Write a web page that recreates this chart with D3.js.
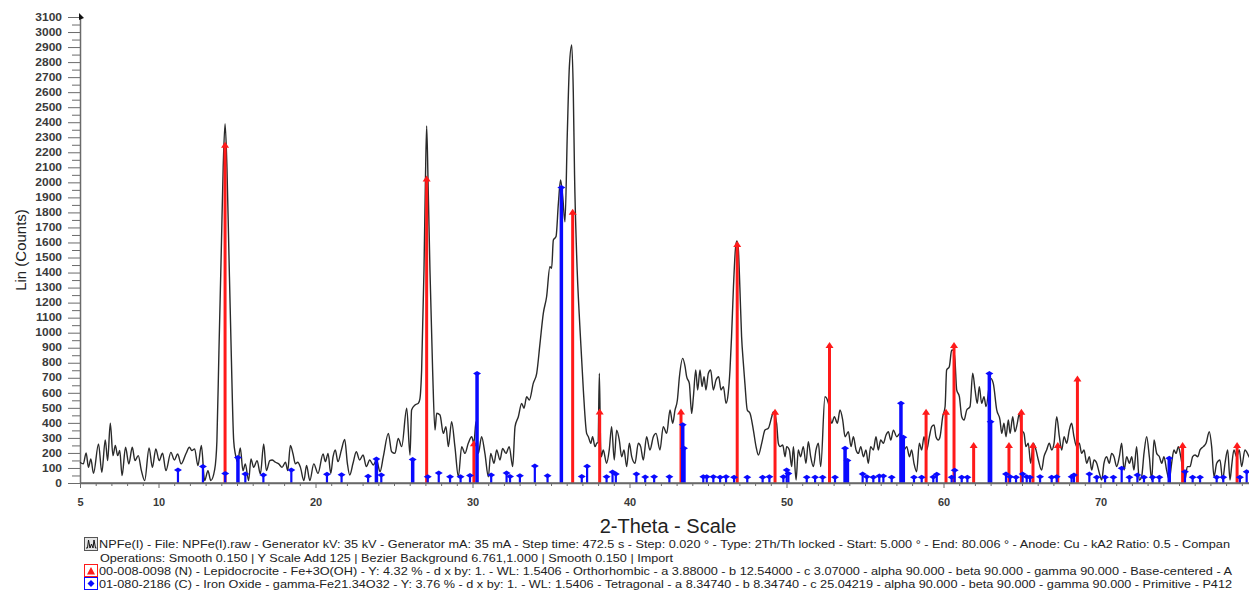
<!DOCTYPE html>
<html>
<head>
<meta charset="utf-8">
<script src="https://cdn.jsdelivr.net/npm/d3@7"></script>
<style>
  body { margin: 0; background: #fff; }
  svg { display: block; font-family: Arial, "Liberation Sans", sans-serif; }
</style>
</head>
<body>
<svg id="chart" width="1249" height="590"></svg>
<script>
// measured scan: [2-theta, counts]
const scan = [
  [5.00,138],[5.21,127],[5.39,200],[5.54,104],[5.69,160],[5.86,64],[6.18,260],[6.39,71],[6.61,287],[6.76,149],
  [6.93,398],[7.10,182],[7.25,249],[7.40,182],[7.53,216],[7.68,49],[7.90,238],[8.11,127],[8.33,238],[8.50,149],
  [8.71,182],[8.91,82],[9.12,16],[9.40,233],[9.61,104],[9.83,227],[10.04,149],[10.26,198],[10.47,82],[10.79,204],
  [11.01,153],[11.22,193],[11.44,127],[11.76,198],[11.97,238],[12.12,216],[12.30,227],[12.51,116],[12.73,249],[12.94,16],
  [13.15,82],[13.33,16],[13.58,90],[13.72,280],[13.85,880],[14.00,1550],[14.12,2100],[14.24,2390],[14.36,2100],[14.48,1550],
  [14.63,880],[14.79,280],[14.90,190],[15.04,138],[15.21,233],[15.38,82],[15.53,127],[15.74,16],[15.89,160],[16.06,104],
  [16.28,149],[16.49,60],[16.70,260],[16.87,82],[17.09,149],[17.23,153],[17.45,138],[17.66,127],[17.87,104],[18.09,138],
  [18.23,82],[18.40,249],[18.57,193],[18.72,127],[18.87,138],[19.04,104],[19.26,16],[19.43,116],[19.64,16],[19.89,127],
  [20.16,64],[20.48,193],[20.63,142],[20.80,197],[20.97,64],[21.12,175],[21.26,220],[21.43,142],[21.65,220],[21.86,290],
  [22.03,131],[22.18,53],[22.39,131],[22.60,208],[22.81,153],[23.03,186],[23.24,109],[23.45,153],[23.68,120],[23.89,153],
  [24.11,75],[24.32,175],[24.64,330],[24.85,208],[25.06,197],[25.27,297],[25.49,242],[25.81,497],[26.02,186],[26.12,486],
  [26.34,519],[26.55,530],[26.65,560],[26.76,752],[26.91,1417],[27.00,2000],[27.08,2375],[27.17,2000],[27.29,1417],[27.46,752],
  [27.61,352],[27.72,464],[27.93,452],[28.14,330],[28.31,375],[28.46,242],[28.67,408],[28.88,242],[29.10,42],[29.31,242],
  [29.52,197],[29.73,264],[29.95,308],[30.09,264],[30.22,408],[30.37,197],[30.58,308],[30.79,197],[31.01,42],[31.16,197],
  [31.37,131],[31.54,220],[31.75,153],[31.92,230],[32.13,197],[32.34,242],[32.56,109],[32.71,375],[32.92,441],[33.13,530],
  [33.28,497],[33.45,574],[33.62,552],[33.87,663],[34.09,730],[34.30,929],[34.51,1129],[34.72,1239],[34.93,1439],[35.04,1428],
  [35.15,1616],[35.32,1639],[35.47,1860],[35.61,2016],[35.75,1900],[35.89,1737],[36.04,2330],[36.17,2770],[36.32,2914],[36.42,2600],
  [36.50,2050],[36.63,1528],[36.85,1018],[37.06,619],[37.27,330],[37.38,308],[37.53,264],[37.65,308],[37.80,242],[37.91,264],
  [38.00,270],[38.08,730],[38.16,240],[38.20,175],[38.33,220],[38.54,131],[38.71,220],[38.86,375],[39.03,153],[39.18,352],
  [39.35,286],[39.50,175],[39.65,220],[39.82,109],[39.99,264],[40.14,175],[40.35,131],[40.56,264],[40.71,242],[40.88,153],
  [41.09,308],[41.30,220],[41.52,308],[41.69,330],[41.94,220],[42.15,375],[42.37,330],[42.58,486],[42.75,397],[42.90,486],
  [43.05,552],[43.18,707],[43.39,829],[43.54,774],[43.64,707],[43.81,663],[43.96,463],[44.07,574],[44.22,752],[44.34,619],
  [44.49,752],[44.62,641],[44.75,707],[44.87,619],[45.02,729],[45.17,752],[45.34,619],[45.51,685],[45.68,707],[45.83,619],
  [45.98,641],[46.15,530],[46.29,600],[46.40,752],[46.50,973],[46.62,1300],[46.75,1560],[46.84,1610],[46.93,1560],[47.03,1300],
  [47.14,973],[47.25,800],[47.35,663],[47.50,486],[47.68,463],[47.89,352],[48.06,242],[48.21,186],[48.42,264],[48.63,352],
  [48.84,364],[49.06,441],[49.16,474],[49.37,397],[49.48,264],[49.59,242],[49.76,253],[49.91,175],[50.01,242],[50.18,220],
  [50.33,109],[50.44,242],[50.61,20],[50.75,220],[50.90,175],[51.07,242],[51.24,131],[51.39,275],[51.54,175],[51.71,109],
  [51.88,220],[52.03,264],[52.18,109],[52.45,574],[52.67,530],[52.88,397],[53.05,441],[53.24,397],[53.41,486],[53.58,419],
  [53.73,308],[53.94,341],[54.11,242],[54.26,308],[54.43,220],[54.58,197],[54.73,242],[54.90,175],[55.06,220],[55.21,131],
  [55.36,242],[55.53,220],[55.70,308],[55.85,220],[56.00,286],[56.17,264],[56.34,319],[56.49,341],[56.64,286],[56.81,352],
  [57.02,308],[57.23,330],[57.34,297],[57.49,220],[57.66,242],[57.83,175],[57.97,220],[58.12,131],[58.29,75],[58.46,264],
  [58.61,220],[58.76,308],[58.93,220],[59.10,308],[59.25,375],[59.40,386],[59.52,308],[59.67,286],[59.78,308],[59.95,441],
  [60.10,507],[60.20,751],[60.37,774],[60.52,883],[60.63,885],[60.73,818],[60.84,620],[61.01,574],[61.16,441],[61.31,419],
  [61.48,486],[61.69,508],[61.86,730],[62.01,619],[62.15,530],[62.28,641],[62.43,530],[62.58,574],[62.71,508],[63.00,696],
  [63.17,663],[63.39,486],[63.60,419],[63.71,330],[63.85,397],[63.98,308],[64.13,419],[64.24,330],[64.41,441],[64.55,341],
  [64.70,397],[64.83,463],[64.98,352],[65.13,330],[65.25,242],[65.40,264],[65.55,131],[65.72,264],[65.89,220],[66.04,153],
  [66.25,86],[66.40,175],[66.57,220],[66.74,264],[66.89,220],[67.04,264],[67.21,441],[67.38,308],[67.53,220],[67.68,308],
  [67.85,264],[68.01,352],[68.16,397],[68.31,308],[68.48,242],[68.65,264],[68.80,197],[68.95,220],[69.12,131],[69.29,175],
  [69.44,86],[69.59,153],[69.76,131],[69.93,64],[70.08,20],[70.22,131],[70.39,175],[70.56,131],[70.71,197],[70.86,175],
  [71.03,109],[71.20,175],[71.35,264],[71.50,86],[71.67,175],[71.84,131],[71.99,175],[72.13,86],[72.30,242],[72.47,20],
  [72.62,42],[72.77,197],[72.94,308],[73.11,175],[73.26,20],[73.41,286],[73.58,197],[73.75,175],[73.90,131],[74.04,175],
  [74.21,86],[74.38,20],[74.53,131],[74.68,220],[74.81,197],[74.96,242],[75.11,175],[75.38,20],[75.53,109],[75.70,109],
  [75.87,175],[76.02,186],[76.20,175],[76.34,220],[76.55,242],[76.72,264],[76.93,341],[77.08,242],[77.23,42],[77.40,131],
  [77.61,153],[77.78,20],[77.93,131],[78.10,220],[78.25,20],[78.35,109],[78.50,220],[78.67,175],[78.84,220],[78.99,109],
  [79.20,220],[79.46,175],[79.70,130],[80.00,160]
];

// reference pattern 00-008-0098 Lepidocrocite: [2-theta, counts]
const lepidocrocite = [
  [14.24,2250],[27.08,2025],[30.09,264],[36.38,1805],[38.10,475],[43.28,476],[46.86,1590],[49.27,474],[52.74,918],[58.89,474],
  [60.16,474],[60.67,918],[61.92,253],[64.17,253],[64.96,474],[65.70,253],[67.28,253],[68.53,696],[75.23,253],[78.70,253]
];

// reference pattern 01-080-2186 Iron Oxide: [2-theta, counts]
const ironOxide = [
  [11.24,87],[12.83,110],[14.25,64],[15.06,169],[15.53,60],[16.68,53],[18.46,87],[20.73,58],[21.66,55],[23.35,45],
  [23.88,160],[24.19,53],[26.19,157],[27.15,42],[27.85,66],[28.57,42],[29.24,42],[29.84,50],[30.29,728],[31.19,53],
  [32.17,66],[32.39,44],[33.02,49],[33.97,113],[34.78,49],[35.66,1965],[36.96,44],[37.30,111],[38.54,42],[38.92,73],
  [39.13,60],[40.44,60],[41.00,40],[41.57,42],[42.54,42],[43.39,388],[43.47,231],[44.70,42],[44.92,42],[45.34,42],
  [45.77,38],[46.15,42],[46.66,38],[47.50,38],[48.48,38],[48.91,42],[49.80,42],[50.01,86],[50.12,64],[51.29,38],
  [51.82,38],[52.30,38],[53.09,38],[53.73,231],[53.88,149],[54.85,60],[55.11,42],[55.53,38],[55.91,46],[56.17,46],
  [56.70,38],[57.29,530],[57.44,304],[58.12,38],[58.61,38],[59.35,40],[59.57,58],[60.52,38],[60.71,84],[61.16,38],
  [61.52,38],[62.92,728],[63.00,408],[63.98,60],[64.24,42],[64.62,38],[65.04,60],[65.30,42],[65.51,38],[66.15,42],
  [66.89,38],[67.21,42],[68.16,42],[68.31,53],[69.29,60],[69.76,38],[70.29,38],[70.82,38],[71.35,98],[71.84,38],
  [72.35,53],[72.77,38],[73.32,38],[73.75,38],[74.38,164],[75.38,75],[75.87,38],[76.34,38],[77.40,38],[77.82,38],
  [78.88,38],[79.31,75]
];

const yTickValues = d3.range(0, 3101, 100);
const yMinorValues = d3.range(50, 3100, 100);
const xTickValues = [5, 10, 20, 30, 40, 50, 60, 70];
const xMinorValues = d3.range(6, 81, 1).filter(v => v % 10 !== 0);

const legendLines = [
  'NPFe(I) - File: NPFe(I).raw - Generator kV: 35 kV - Generator mA: 35 mA - Step time: 472.5 s - Step: 0.020 ° - Type: 2Th/Th locked - Start: 5.000 ° - End: 80.006 ° - Anode: Cu - kA2 Ratio: 0.5 - Compan',
  'Operations: Smooth 0.150 | Y Scale Add 125 | Bezier Background 6.761,1.000 | Smooth 0.150 | Import',
  '00-008-0098 (N) - Lepidocrocite - Fe+3O(OH) - Y: 4.32 % - d x by: 1. - WL: 1.5406 - Orthorhombic - a 3.88000 - b 12.54000 - c 3.07000 - alpha 90.000 - beta 90.000 - gamma 90.000 - Base-centered - A',
  '01-080-2186 (C) - Iron Oxide - gamma-Fe21.34O32 - Y: 3.76 % - d x by: 1. - WL: 1.5406 - Tetragonal - a 8.34740 - b 8.34740 - c 25.04219 - alpha 90.000 - beta 90.000 - gamma 90.000 - Primitive - P412'
];

////////// SCALES ///////////////////

const svg = d3.select('#chart');

const x = d3.scaleLinear().domain([5, 80]).range([80, 1257.5]);
const y = d3.scaleLinear().domain([0, 3100]).range([483, 17]);

const axisColor = '#6a6a6a';
const labelColor = '#3a3a3a';

////////// AXES ///////////////////

const yScaleX = 1.2;
const gY = svg.append('g').attr('transform', 'translate(80,0)');
gY.call(d3.axisLeft(y).tickValues(yTickValues).tickFormat(d3.format('d'))
  .tickSize(12).tickSizeOuter(0).tickPadding(6));
gY.append('g')
  .call(d3.axisLeft(y).tickValues(yMinorValues).tickSize(8).tickSizeOuter(0).tickFormat(''))
  .select('.domain').remove();
gY.selectAll('path.domain').attr('stroke', axisColor).attr('stroke-width', 1.5);
gY.selectAll('.tick line').attr('stroke', axisColor);
gY.selectAll('.tick text')
  .attr('x', -18 / yScaleX)
  .attr('transform', `scale(${yScaleX},1)`)
  .attr('fill', labelColor)
  .style('font-size', '10px')
  .style('font-weight', 'bold');

// small arrow at the top of the y axis
svg.append('path')
  .attr('d', 'M79,13 L84,18 L79,20 Z')
  .attr('fill', '#111');

const xScaleX = 1.1;
const gX = svg.append('g').attr('transform', 'translate(0,483)');
gX.call(d3.axisBottom(x).tickValues(xTickValues).tickSize(5).tickSizeOuter(0).tickPadding(11));
gX.append('g')
  .call(d3.axisBottom(x).tickValues(xMinorValues).tickSize(3).tickSizeOuter(0).tickFormat(''))
  .select('.domain').remove();
gX.selectAll('path.domain').attr('stroke', axisColor).attr('stroke-width', 1.5);
gX.selectAll('.tick line').attr('stroke', axisColor);
gX.selectAll('.tick text')
  .attr('transform', `scale(${xScaleX},1)`)
  .attr('fill', labelColor)
  .style('font-size', '10px')
  .style('font-weight', 'bold');

svg.append('text')
  .attr('transform', 'translate(26,250) rotate(-90)')
  .attr('text-anchor', 'middle')
  .attr('fill', '#222')
  .style('font-size', '15px')
  .text('Lin (Counts)');

svg.append('text')
  .attr('x', 668)
  .attr('y', 533)
  .attr('text-anchor', 'middle')
  .attr('fill', '#222')
  .style('font-size', '20px')
  .text('2-Theta - Scale');

////////// SCAN LINE ///////////////////

const line = d3.line()
  .x(d => x(d[0]))
  .y(d => y(d[1]))
  .curve(d3.curveMonotoneX);

svg.append('path')
  .datum(scan)
  .attr('d', line)
  .attr('fill', 'none')
  .attr('stroke', '#2a2a2a')
  .attr('stroke-width', 1.4)
  .attr('stroke-linejoin', 'round');

////////// STICK PATTERNS ///////////////////

const red = '#ff1a1a';
const blue = '#0a0aff';

svg.append('g').selectAll('line')
  .data(lepidocrocite)
  .enter().append('line')
  .attr('x1', d => x(d[0])).attr('x2', d => x(d[0]))
  .attr('y1', y(0)).attr('y2', d => y(d[1]))
  .attr('stroke', red).attr('stroke-width', 3);

svg.append('g').selectAll('path')
  .data(lepidocrocite)
  .enter().append('path')
  .attr('d', d => {
    const px = x(d[0]), py = y(d[1]);
    return `M${px - 4},${py + 3} L${px},${py - 3} L${px + 4},${py + 3} Z`;
  })
  .attr('fill', red);

svg.append('g').selectAll('line')
  .data(ironOxide)
  .enter().append('line')
  .attr('x1', d => x(d[0])).attr('x2', d => x(d[0]))
  .attr('y1', y(0)).attr('y2', d => y(d[1]))
  .attr('stroke', blue).attr('stroke-width', d => d[1] > 140 ? 3.5 : 2.2);

svg.append('g').selectAll('path')
  .data(ironOxide)
  .enter().append('path')
  .attr('d', d => {
    const px = x(d[0]), py = y(d[1]);
    return `M${px - 4},${py} L${px},${py - 2.5} L${px + 4},${py} L${px},${py + 2.5} Z`;
  })
  .attr('fill', blue);

// repaint the axis line on top of the sticks
svg.append('line')
  .attr('x1', 80).attr('x2', 1249).attr('y1', 483).attr('y2', 483)
  .attr('stroke', axisColor).attr('stroke-width', 1.5);

////////// LEGEND ///////////////////

const legend = svg.append('g');
const rows = [548, 561.5, 574.5, 587.5];

// scan icon
legend.append('rect').attr('x', 84.5).attr('y', 537.5).attr('width', 13).attr('height', 13)
  .attr('fill', '#e6e6e6').attr('stroke', '#555');
legend.append('polyline')
  .attr('points', '86,548 87.5,548 88.5,540 90,548 91.5,544 93,548 94,540 95.5,548 96.5,548')
  .attr('fill', 'none').attr('stroke', '#111').attr('stroke-width', 1);

legend.append('rect').attr('x', 84.5).attr('y', 564.5).attr('width', 13).attr('height', 12)
  .attr('fill', '#fff').attr('stroke', red);
legend.append('path').attr('d', 'M87,574.5 L91,567 L95,574.5 Z').attr('fill', red);

legend.append('rect').attr('x', 84.5).attr('y', 577.5).attr('width', 13).attr('height', 12)
  .attr('fill', '#fff').attr('stroke', blue);
legend.append('path').attr('d', 'M87.5,583.5 L91,580 L94.5,583.5 L91,587 Z').attr('fill', blue);

const starts = [99, 100, 99, 99];
const lengths = [1131, 573, 1133, 1133];
legend.selectAll('text')
  .data(legendLines)
  .enter().append('text')
  .attr('x', (d, i) => starts[i])
  .attr('y', (d, i) => rows[i])
  .attr('textLength', (d, i) => lengths[i])
  .attr('lengthAdjust', 'spacingAndGlyphs')
  .attr('fill', '#222')
  .style('font-size', '11px')
  .text(d => d);
</script>
</body>
</html>
